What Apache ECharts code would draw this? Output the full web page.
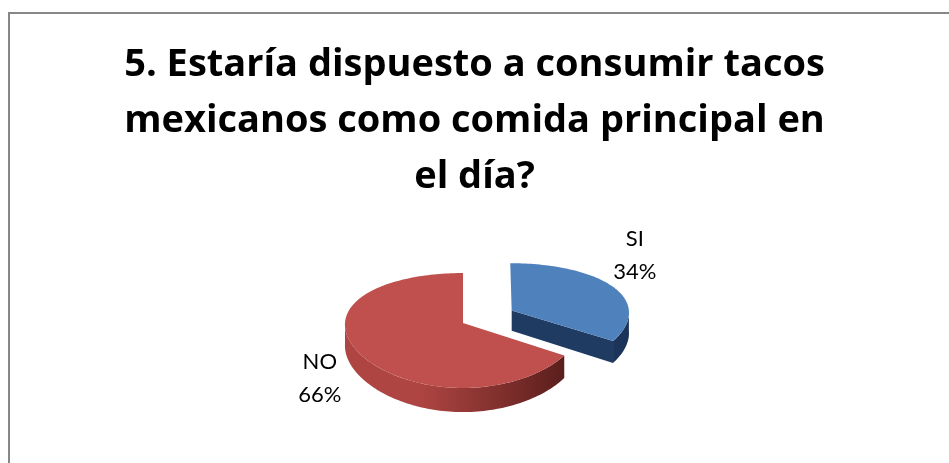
<!DOCTYPE html>
<html>
<head>
<meta charset="utf-8">
<script src="https://cdn.jsdelivr.net/npm/echarts@6/dist/echarts.min.js"></script>
<style>
  html, body { margin: 0; padding: 0; background: #ffffff; }
  #chart { width: 949px; height: 463px; }
</style>
</head>
<body>
<div id="chart"></div>
<script>
// Survey question and answers
const titleText = '5. Estaría dispuesto a consumir tacos\nmexicanos como comida principal en\nel día?';
const categories = ['SI', 'NO'];
const percentages = [34, 66];
const explodeFactors = [0.474, 0];

// Slice colours: top face, wall (light end), wall (dark end)
const topColors = ['#4F81BD', '#C0504D'];
const wallLight = ['#284872', '#AE4542'];
const wallDark = ['#1B3257', '#581D1B'];

// Tilted-disk geometry with a light perspective (front is larger than back)
const PIE = { cx: 463, cy: 323, rx: 118, ry: 56.5, depth: 21, py: 0.13, px: 0.03 };
const LABEL = { lx: 152, ly: 115, dx: -10 };

function project(u, v, h) {
  const sy = 1 / (1 - PIE.py * v);
  const sx = 1 / (1 - PIE.px * v);
  return [PIE.cx + PIE.rx * u * sx, PIE.cy + (PIE.ry * v + PIE.depth * h) * sy];
}

const total = percentages.reduce((a, b) => a + b, 0);

function renderSlice(params, api) {
  const i = params.dataIndex;
  const value = api.value(0);
  let before = 0;
  for (let k = 0; k < i; k++) before += percentages[k];
  const a = before / total * Math.PI * 2;          // clockwise from 12 o'clock
  const b = a + value / total * Math.PI * 2;
  const mid = (a + b) / 2;
  const e = explodeFactors[i];
  const u0 = e * Math.sin(mid);
  const v0 = -e * Math.cos(mid);

  const pt = (t, r, h) => project(u0 + r * Math.sin(t), v0 - r * Math.cos(t), h);
  const arc = (t0, t1, h) => {
    const n = Math.max(2, Math.ceil(Math.abs(t1 - t0) / (Math.PI / 120)));
    const out = [];
    for (let s = 0; s <= n; s++) out.push(pt(t0 + (t1 - t0) * s / n, 1, h));
    return out;
  };

  const children = [];
  const minX = PIE.cx - PIE.rx * 1.05;
  const maxX = PIE.cx + PIE.rx * 1.45;
  const wallFill = new echarts.graphic.LinearGradient(
    minX, 0, (i === 0 ? maxX : PIE.cx + PIE.rx * 0.9), 0,
    [{ offset: 0, color: wallLight[i] }, { offset: 0.35, color: wallLight[i] }, { offset: 1, color: wallDark[i] }], true);

  // radial face along the end edge (faces the viewer when sin(b) > 0)
  if (Math.sin(b) > 1e-6) {
    children.push({
      type: 'polygon',
      shape: { points: [pt(b, 0, 0), pt(b, 1, 0), pt(b, 1, 1), pt(b, 0, 1)] },
      style: { fill: i === 0 ? '#203B62' : wallDark[i] }
    });
  }
  // radial face along the start edge
  if (-Math.sin(a) > 1e-6) {
    children.push({
      type: 'polygon',
      shape: { points: [pt(a, 0, 0), pt(a, 1, 0), pt(a, 1, 1), pt(a, 0, 1)] },
      style: { fill: wallDark[i] }
    });
  }
  // outer curved wall: only the front half (between 3 and 9 o'clock) is seen
  const w0 = Math.max(a, Math.PI / 2);
  const w1 = Math.min(b, Math.PI * 1.5);
  if (w1 > w0) {
    const pts = arc(w0, w1, 0).concat(arc(w1, w0, 1));
    children.push({ type: 'polygon', shape: { points: pts }, style: { fill: wallFill } });
  }
  // top face
  children.push({
    type: 'polygon',
    shape: { points: [pt(a, 0, 0)].concat(arc(a, b, 0)) },
    style: { fill: topColors[i] }
  });

  // data label: category and percentage
  const c = pt(0, 0, 0);
  children.push({
    type: 'text',
    style: {
      text: categories[i] + '\n' + Math.round(value / total * 100) + '%',
      x: c[0] + LABEL.lx * Math.sin(mid) + LABEL.dx,
      y: c[1] - LABEL.ly * Math.cos(mid),
      align: 'center',
      verticalAlign: 'middle',
      fill: '#000000',
      fontSize: 22,
      fontFamily: 'Lato',
      lineHeight: 33
    }
  });

  return { type: 'group', children: children };
}

const chart = echarts.init(document.getElementById('chart'), null, { renderer: 'canvas' });
chart.setOption({
  backgroundColor: '#ffffff',
  animation: false,
  title: {
    text: titleText,
    left: 'center',
    top: 32,
    textStyle: {
      fontFamily: 'Open Sans',
      fontWeight: 'bold',
      fontSize: 38,
      lineHeight: 56,
      color: '#000000'
    }
  },
  graphic: [{
    type: 'rect',
    silent: true,
    shape: { x: 9, y: 13, width: 1200, height: 800 },
    style: { fill: 'none', stroke: '#878787', lineWidth: 2 }
  }],
  series: [{
    type: 'custom',
    coordinateSystem: 'none',
    renderItem: renderSlice,
    data: percentages.map((v, i) => ({ name: categories[i], value: v }))
  }]
});
</script>
</body>
</html>
